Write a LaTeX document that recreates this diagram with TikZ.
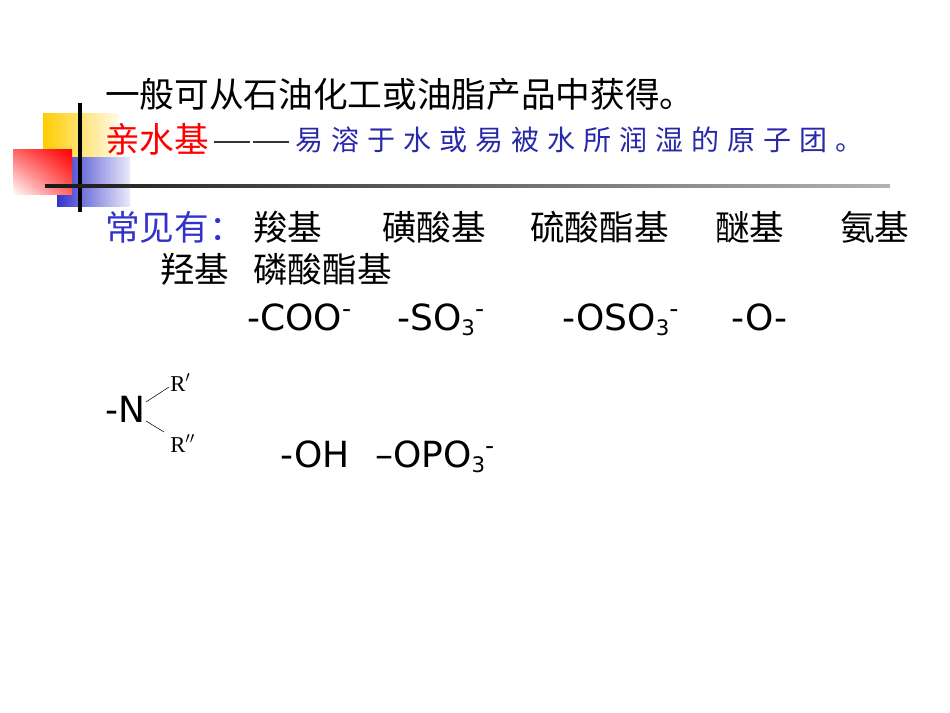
\documentclass[tikz,border=0pt]{standalone}
\usepackage{fontspec}
\setmainfont{DejaVu Sans}
\newfontfamily\cjk{Noto Sans CJK SC}
\newfontfamily\chem{DejaVu Sans}
\newfontfamily\rser{Liberation Serif}
\usetikzlibrary{shadings}
\newcommand{\gp}{\hspace{6pt}}
\begin{document}
\begin{tikzpicture}[x=0.75pt,y=-0.75pt,
 txt/.style={anchor=base west,inner sep=0pt,font=\cjk\fontsize{26}{28}\selectfont},
 blu/.style={txt,text={rgb,255:red,40;green,40;blue,170},font=\cjk\fontsize{21}{24}\selectfont},
 ch/.style={anchor=base west,inner sep=0pt,font=\chem\fontsize{27}{30}\selectfont},
 rr/.style={anchor=base west,inner sep=0pt,font=\rser\fontsize{17}{18}\selectfont}]
\useasboundingbox (0,0) rectangle (950,713);
\definecolor{dblue}{RGB}{51,51,204}
\definecolor{ylw}{RGB}{255,204,0}
\shade[left color=ylw,right color=ylw!10] (43,114) rectangle (118,158);
\shade[left color=dblue,right color=dblue!10] (57,158) rectangle (130,207);
\shade[lower left=white,upper right=red,upper left=red!60,lower right=red!60] (13,150) rectangle (72,195);
\draw[line width=2.5pt] (80,103) -- (80,212);
\shade[left color=black!90,right color=black!30] (45,184.5) rectangle (890,188);
\node[txt] (l1) at (105,108) {一般可从石油化工或油脂产品中获得。};
\node[txt,text=red] (l2a) at (105,153) {亲水基};
\node[txt,text=black!80] (l2d) at (214,153) {\rule[0.3em]{27pt}{0.9pt}\hspace{2pt}\rule[0.3em]{27pt}{0.9pt}};
\node[blu] (l2b) at (295,151) {易\gp 溶\gp 于\gp 水\gp 或\gp 易\gp 被\gp 水\gp 所\gp 润\gp 湿\gp 的\gp 原\gp 子\gp 团\gp 。};
\node[txt,text=dblue] (c0) at (105,240) {常见有：};
\node[txt] (c1) at (253,240) {羧基};
\node[txt] (c2) at (382,240) {磺酸基};
\node[txt] (c3) at (530,240) {硫酸酯基};
\node[txt] (c4) at (715,240) {醚基};
\node[txt] (c5) at (840,240) {氨基};
\node[txt] (c6) at (160,282) {羟基};
\node[txt] (c7) at (253,282) {磷酸酯基};
\node[ch] (f1) at (247,330) {-COO\textsuperscript{-}};
\node[ch] (f2) at (397,330) {-SO\raisebox{-0.3ex}{\fontsize{16}{16}\selectfont 3}\textsuperscript{-}};
\node[ch] (f3) at (562,330) {-OSO\raisebox{-0.3ex}{\fontsize{16}{16}\selectfont 3}\textsuperscript{-}};
\node[ch] (f4) at (731,330) {-O-};
\node[ch] (n) at (105,422) {-N};
\node[rr] (r1) at (170,391) {R$'$};
\node[rr] (r2) at (170,452) {R$''$};
\draw (146,402) -- (169,387);
\draw (146,421) -- (164,432);
\node[ch] (f5) at (280,467) {-OH};
\node[ch] (f6) at (375,467) {–OPO\raisebox{-0.3ex}{\fontsize{16}{16}\selectfont 3}\textsuperscript{-}};
\end{tikzpicture}
\end{document}
